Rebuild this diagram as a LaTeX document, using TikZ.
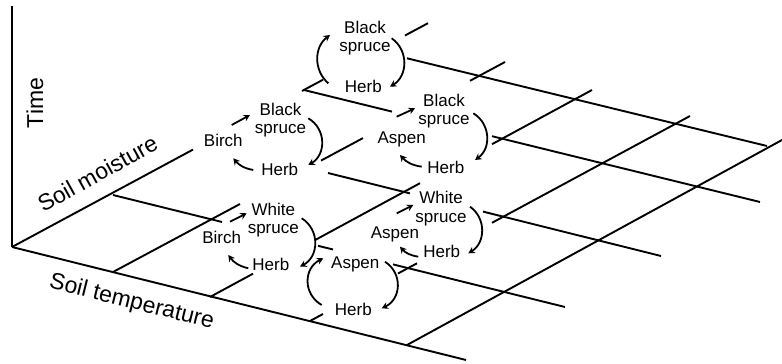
\documentclass[tikz,border=0pt]{standalone}
\usepackage{fontspec}
\setmainfont{Liberation Sans}
\usetikzlibrary{arrows.meta}

\begin{document}
\begin{tikzpicture}[
    x=1pt, y=1pt,
    plant/.style={font=\fontsize{17}{18.4}\selectfont, align=center, inner sep=1pt},
    axislabel/.style={font=\fontsize{23}{25}\selectfont, inner sep=0pt},
    gridline/.style={line width=1.9pt},
    trans/.style={line width=1.8pt, -{Stealth[length=6.5pt,width=7pt,inset=2.2pt]}}
  ]
    \useasboundingbox (0,0) rectangle (782,364);

    % axes
    \draw[gridline] (12,358) -- (12,117);
    \draw[gridline] (12,117) -- (466,4);
    \node[axislabel, rotate=90] (time) at (35,261) {Time};
    \node[axislabel, rotate=29] (moist) at (97.5,190.7) {Soil moisture};
    \node[axislabel, rotate=-14] (temp) at (131.7,61.5) {Soil temperature};

    % temperature lines, broken where a cycle sits on them
    \draw[gridline] (113,169) -- (222,142);
    \draw[gridline] (318,118.2) -- (333,114.5);
    \draw[gridline] (393,99.6) -- (565,57);
    \draw[gridline] (328,191) -- (410,170.6);
    \draw[gridline] (483,152.4) -- (661,108);
    \draw[gridline] (304,274) -- (392,252.4);
    \draw[gridline] (492,227.8) -- (760,162);
    \draw[gridline] (407,305.7) -- (767,218);

    % moisture lines
    \draw[gridline] (12,117) -- (193,214.4);
    \draw[gridline] (302,273) -- (323,284.3);
    \draw[gridline] (405,328.5) -- (428,340.8);
    \draw[gridline] (113,92) -- (240,160);
    \draw[gridline] (321,203.4) -- (363,225.9);
    \draw[gridline] (470,283.2) -- (505,302);
    \draw[gridline] (210,67) -- (253,90.3);
    \draw[gridline] (315,123.9) -- (420,180.8);
    \draw[gridline] (492,219.8) -- (592,274);
    \draw[gridline] (310,43) -- (323,50);
    \draw[gridline] (398,90.5) -- (417,100.7);
    \draw[gridline] (492,141.2) -- (690,248);
    \draw[gridline] (407,19) -- (782,224);

    % top: black spruce <-> herb
    \node[plant] (bsT) at (365,325.8) {Black\\spruce};
    \node[plant] (hT) at (363.3,277.8) {Herb};
    \draw[trans] ([shift={(-35,2.9)}]hT.center) to[bend left=51, looseness=1.05] ([shift={(-35,3.2)}]bsT.center);
    \draw[trans] ([shift={(26.7,-0.1)}]bsT.center) to[bend left=57, looseness=1.1] ([shift={(26.7,-0.5)}]hT.center);

    % birch -> black spruce -> herb
    \node[plant] (birchA) at (223.3,223.6) {Birch};
    \node[plant] (bsA) at (280.5,243.6) {Black\\spruce};
    \node[plant] (hA) at (279.7,194.1) {Herb};
    \draw[trans] ([shift={(8.4,15.4)}]birchA.center) -- ([shift={(-30.5,5.4)}]bsA.center);
    \draw[trans] ([shift={(27.8,2.1)}]bsA.center) to[bend left=60, looseness=1.14] ([shift={(28.6,4.9)}]hA.center);
    \draw[trans] ([shift={(-26.4,-0.1)}]hA.center) to[bend left=20] ([shift={(10,-17.9)}]birchA.center);

    % aspen -> black spruce -> herb
    \node[plant] (bsB) at (444,253.1) {Black\\spruce};
    \node[plant] (aspB) at (401.7,224.3) {Aspen};
    \node[plant] (hB) at (445.8,196.8) {Herb};
    \draw[trans] ([shift={(-5,23)}]aspB.center) -- ([shift={(-29,2.6)}]bsB.center);
    \draw[trans] ([shift={(29.3,-2.4)}]bsB.center) to[bend left=57, looseness=1.1] ([shift={(29.2,7.2)}]hB.center);
    \draw[trans] ([shift={(-24.1,0.5)}]hB.center) to[bend left=20] ([shift={(-1.7,-15.3)}]aspB.center);

    % birch -> white spruce -> herb
    \node[plant] (wsC) at (273.3,143.6) {White\\spruce};
    \node[plant] (birchC) at (221.7,126.1) {Birch};
    \node[plant] (hC) at (270.8,99.4) {Herb};
    \draw[trans] ([shift={(8.3,16.2)}]birchC.center) -- ([shift={(-26.6,7.1)}]wsC.center);
    \draw[trans] ([shift={(28.4,2.1)}]wsC.center) to[bend left=60, looseness=1.14] ([shift={(29.2,-2.1)}]hC.center);
    \draw[trans] ([shift={(-22.5,-3.7)}]hC.center) to[bend left=20] ([shift={(6.6,-17.1)}]birchC.center);

    % aspen -> white spruce -> herb
    \node[plant] (wsD) at (441,155.5) {White\\spruce};
    \node[plant] (aspD) at (395,130) {Aspen};
    \node[plant] (hD) at (441.7,112.8) {Herb};
    \draw[trans] ([shift={(1.7,20.7)}]aspD.center) -- ([shift={(-27.7,3.5)}]wsD.center);
    \draw[trans] ([shift={(29,1.8)}]wsD.center) to[bend left=57, looseness=1.1] ([shift={(26.6,-2.1)}]hD.center);
    \draw[trans] ([shift={(-23.4,-5.5)}]hD.center) to[bend left=20] ([shift={(5,-12.7)}]aspD.center);

    % aspen <-> herb
    \node[plant] (aspE) at (355.3,100) {Aspen};
    \node[plant] (hE) at (353.3,54.1) {Herb};
    \draw[trans] ([shift={(-31.6,4.9)}]hE.center) to[bend left=62, looseness=1.2] ([shift={(-32,5.7)}]aspE.center);
    \draw[trans] ([shift={(29.7,2.3)}]aspE.center) to[bend left=61, looseness=1.18] ([shift={(28.4,1.6)}]hE.center);
\end{tikzpicture}
\end{document}
